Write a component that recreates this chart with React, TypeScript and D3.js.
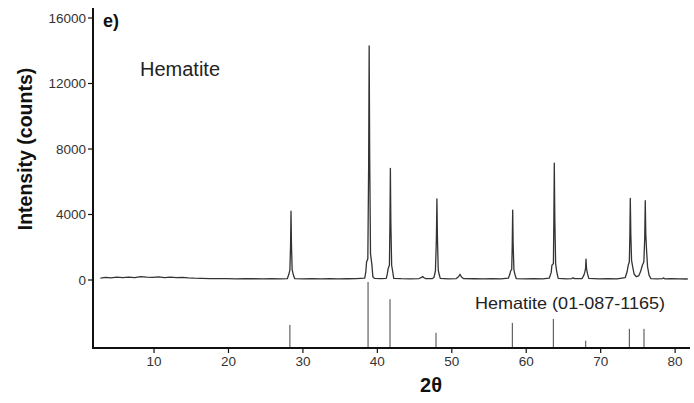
import React from "react";
import * as d3 from "d3";

// Measured diffraction pattern: [2θ, counts]
const baselineLow: [number, number][] = [
  [2.8, 120], [3.5, 160], [4.2, 130], [5.0, 170], [5.8, 140], [6.6, 180], [7.4, 150], [8.2, 200], [9.0, 170],
  [9.8, 160], [10.6, 190], [11.4, 150], [12.2, 170], [13.0, 140], [13.8, 160], [14.6, 130], [15.4, 110],
  [16.4, 100], [17.5, 90], [18.6, 80], [19.8, 85], [21.0, 70], [22.2, 80], [23.4, 75], [24.6, 70], [25.8, 80],
  [27.0, 70], [27.9, 80],
];
const peaks28to48: [number, number][] = [
  [28.1, 330], [28.25, 600], [28.34, 2100], [28.4, 4200], [28.46, 2200], [28.55, 650], [28.7, 330], [28.9, 80],
  [30.0, 70], [31.2, 75], [32.4, 70], [33.6, 80], [34.8, 70], [36.0, 75], [37.2, 90], [38.3, 120],
  [38.45, 500], [38.55, 1100], [38.72, 1300], [38.83, 7000], [38.9, 14300], [38.97, 7500], [39.08, 1600],
  [39.25, 1000], [39.4, 200], [39.6, 100],
  [40.5, 90], [41.2, 100],
  [41.35, 400], [41.45, 700], [41.62, 900], [41.69, 3500], [41.75, 6820], [41.81, 3600], [41.92, 900],
  [42.05, 550], [42.2, 100],
  [43.2, 80], [44.4, 70], [45.6, 90], [45.95, 160], [46.07, 220], [46.2, 150], [46.5, 80], [47.4, 90], [47.6, 150],
  [47.7, 350], [47.8, 550], [47.93, 2500], [48.0, 4950], [48.07, 2600], [48.18, 600], [48.3, 350], [48.45, 100],
];
const peaks49to82: [number, number][] = [
  [49.5, 70], [50.6, 90], [50.9, 200], [51.1, 350], [51.3, 180], [51.6, 80], [53.0, 75], [54.2, 70], [55.4, 80],
  [56.6, 70], [57.6, 110], [57.8, 350],
  [57.9, 550], [58.05, 650], [58.12, 2100], [58.18, 4270], [58.24, 2200], [58.35, 600], [58.48, 350], [58.65, 90],
  [59.8, 70], [61.0, 80], [62.2, 70], [63.1, 120], [63.35, 450],
  [63.45, 900], [63.65, 1000], [63.71, 3600], [63.77, 7130], [63.84, 3700], [63.95, 1000], [64.1, 500], [64.3, 100],
  [65.4, 70], [66.1, 80], [66.3, 130], [66.5, 80], [67.5, 90], [67.75, 300],
  [67.85, 450], [67.97, 700], [68.03, 1280], [68.1, 700], [68.22, 400], [68.4, 100],
  [69.8, 70], [71.0, 80], [72.2, 70], [73.3, 150], [73.55, 500],
  [73.7, 900], [73.85, 1100], [73.92, 2700], [73.98, 4990], [74.05, 2800], [74.15, 1200], [74.3, 800], [74.5, 350],
  [74.8, 200], [75.1, 250], [75.35, 500],
  [75.6, 900], [75.8, 1100], [75.92, 2600], [75.99, 4840], [76.06, 2800], [76.18, 1700], [76.3, 800], [76.5, 300],
  [76.75, 80],
  [77.6, 70], [78.3, 80], [78.45, 130], [78.6, 70], [79.5, 80], [80.5, 70], [81.7, 60],
];

// Reference pattern Hematite (01-087-1165): positions and relative intensities
const refTheta: number[] = [28.25, 38.75, 41.7, 47.88, 58.13, 63.64, 67.99, 73.85, 75.82];
const refIntensity: number[] = [35, 100, 74, 23, 38, 44, 11, 29, 29];

const yTicks: number[] = [0, 4000, 8000, 12000, 16000];
const xTicks: number[] = [10, 20, 30, 40, 50, 60, 70, 80];

export default function App() {
  const W = 694;
  const H = 403;
  const x = d3.scaleLinear().domain([1.8, 82]).range([93, 690]);
  const y = d3.scaleLinear().domain([0, 16000]).range([280, 18]);
  const yRef = d3.scaleLinear().domain([0, 100]).range([348, 282]);
  const data = [...baselineLow, ...peaks28to48, ...peaks49to82];
  const line = d3
    .line<[number, number]>()
    .x((d) => x(d[0]))
    .y((d) => y(d[1]));
  const font = "'Liberation Sans', Arial, sans-serif";
  const axisTop = 8;
  const axisBottom = 348;

  return (
    <svg
      width={W}
      height={H}
      style={{ position: "absolute", left: 0, top: 0, background: "#fff" }}
      fontFamily={font}
    >
      <rect x={0} y={0} width={W} height={H} fill="#fff" />
      {/* data */}
      <path d={line(data) || ""} fill="none" stroke="#333" strokeWidth={1.3} strokeLinejoin="round" />
      {/* reference sticks */}
      {refTheta.map((t, i) => (
        <line
          key={i}
          x1={x(t)}
          x2={x(t)}
          y1={yRef(0)}
          y2={yRef(refIntensity[i])}
          stroke="#444"
          strokeWidth={1}
        />
      ))}
      {/* y axis */}
      <line x1={93} x2={93} y1={axisTop} y2={axisBottom + 1} stroke="#111" strokeWidth={2} />
      {yTicks.map((t) => (
        <g key={t}>
          <line x1={88} x2={93} y1={y(t)} y2={y(t)} stroke="#111" strokeWidth={1.2} />
          <text x={86} y={y(t)} dy="0.35em" textAnchor="end" fontSize={13.5} fill="#333">
            {t}
          </text>
        </g>
      ))}
      {/* x axis */}
      <line x1={92} x2={690} y1={axisBottom} y2={axisBottom} stroke="#111" strokeWidth={2} />
      {xTicks.map((t) => (
        <g key={t}>
          <line x1={x(t)} x2={x(t)} y1={axisBottom} y2={axisBottom + 5} stroke="#111" strokeWidth={1.2} />
          <text x={x(t)} y={366} textAnchor="middle" fontSize={13.5} fill="#333">
            {t}
          </text>
        </g>
      ))}
      {/* labels */}
      <text
        transform={`translate(32,149) rotate(-90)`}
        textAnchor="middle"
        fontSize={19.5}
        fontWeight="bold"
        fill="#111"
      >
        Intensity (counts)
      </text>
      <text x={431} y={392} textAnchor="middle" fontSize={20} fontWeight="bold" fill="#111">
        2θ
      </text>
      <text x={103} y={27} fontSize={18} fontWeight="bold" fill="#111">
        e)
      </text>
      <text x={140} y={76} fontSize={20} fill="#222">
        Hematite
      </text>
      <text x={475} y={309} fontSize={16.5} fill="#222" textLength={190} lengthAdjust="spacingAndGlyphs">
        Hematite (01-087-1165)
      </text>
    </svg>
  );
}
